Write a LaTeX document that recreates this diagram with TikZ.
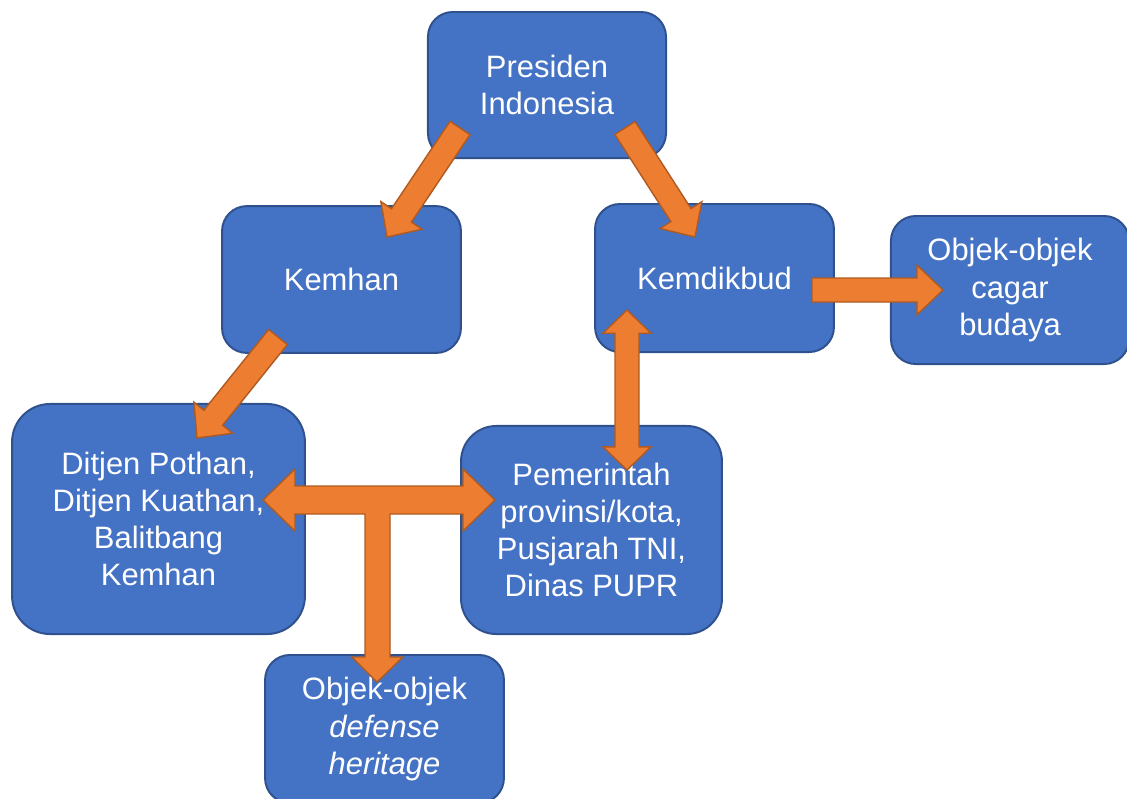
\documentclass[tikz,border=0pt]{standalone}
\usepackage{fontspec}
\setmainfont{Liberation Sans}
\usetikzlibrary{calc}
\definecolor{boxblue}{HTML}{4472C4}
\definecolor{boxedge}{HTML}{2F528F}
\definecolor{arrorange}{HTML}{ED7D31}
\definecolor{arredge}{HTML}{AE5A21}

\tikzset{
  unit/.style={draw=boxedge,fill=boxblue,line width=1.4pt,text=white,align=center,
    font=\fontsize{22}{26.5}\selectfont,inner sep=0pt},
  barrow/.style={draw=arredge,fill=arrorange,line width=1pt,line join=miter}
}

% Blockpfeil von #1 nach #2
\newcommand{\blockarrow}[2]{%
  \coordinate (hb) at ($(#2)!0.65cm!(#1)$);
  \draw[barrow] ($(#1)!0.3cm!-90:(#2)$) -- ($(hb)!0.3cm!-90:(#2)$) -- ($(hb)!0.62cm!-90:(#2)$)
    -- (#2) -- ($(hb)!0.62cm!90:(#2)$) -- ($(hb)!0.3cm!90:(#2)$) -- ($(#1)!0.3cm!90:(#2)$) -- cycle;}
% Doppelpfeil zwischen #1 und #2
\newcommand{\dblarrow}[2]{%
  \coordinate (ha) at ($(#1)!0.58cm!(#2)$);
  \coordinate (hb) at ($(#2)!0.58cm!(#1)$);
  \draw[barrow] (#1) -- ($(ha)!0.6cm!90:(#2)$) -- ($(ha)!0.3cm!90:(#2)$) -- ($(hb)!0.3cm!90:(#2)$)
    -- ($(hb)!0.6cm!90:(#2)$) -- (#2) -- ($(hb)!0.6cm!-90:(#2)$) -- ($(hb)!0.3cm!-90:(#2)$)
    -- ($(ha)!0.3cm!-90:(#2)$) -- ($(ha)!0.6cm!-90:(#2)$) -- cycle;}

\begin{document}
\begin{tikzpicture}[x=0.025cm,y=-0.025cm]
\useasboundingbox (0,0) rectangle (1127,798);
\begin{scope}
\clip (0,0) rectangle (1127,798);
% Kaesten
\node[unit,rounded corners=0.62cm,minimum width=5.95cm,minimum height=3.65cm] (pres) at (547,85) {Presiden\\Indonesia};
\node[unit,rounded corners=0.62cm,minimum width=5.97cm,minimum height=3.67cm] (kemhan) at (341.5,279.5) {Kemhan};
\node[unit,rounded corners=0.62cm,minimum width=5.97cm,minimum height=3.7cm] (kemdik) at (714.5,278) {Kemdikbud};
\node[unit,rounded corners=0.62cm,minimum width=5.95cm,minimum height=3.7cm] (cagar) at (1010,290) {Objek-objek\\cagar\\budaya};
\node[unit,rounded corners=0.95cm,minimum width=7.32cm,minimum height=5.75cm] (ditjen) at (158.5,519) {Ditjen Pothan,\\Ditjen Kuathan,\\Balitbang\\Kemhan};
\node[unit,rounded corners=0.88cm,minimum width=6.52cm,minimum height=5.2cm] (pemda) at (591.5,530) {Pemerintah\\provinsi/kota,\\Pusjarah TNI,\\Dinas PUPR};
\node[unit,rounded corners=0.62cm,minimum width=5.97cm,minimum height=3.7cm] (defense) at (384.5,729) {Objek-objek\\\textit{defense}\\\textit{heritage}};
\end{scope}

% Pfeile
\coordinate (presK) at (460,128);
\coordinate (kemhanT) at (387,237);
\coordinate (presD) at (625,128);
\coordinate (kemdikT) at (695,237);
\coordinate (kemhanD) at (278,337);
\coordinate (ditjenT) at (197,438);
\coordinate (kemdikB) at (627,310);
\coordinate (pemdaT) at (627,470);
\coordinate (kemdikR) at (812,290);
\coordinate (cagarL) at (943,290);
\blockarrow{presK}{kemhanT}
\blockarrow{presD}{kemdikT}
\blockarrow{kemhanD}{ditjenT}
\dblarrow{kemdikB}{pemdaT}
\blockarrow{kemdikR}{cagarL}
% T-Pfeil links, rechts, unten
\draw[barrow] (263,500) -- (295,469) -- (295,486) -- (463,486) -- (463,469) -- (495,500)
  -- (463,531) -- (463,514) -- (390,514) -- (390,657) -- (403,657) -- (377,682)
  -- (352,657) -- (365,657) -- (365,514) -- (295,514) -- (295,531) -- cycle;
\end{tikzpicture}
\end{document}
